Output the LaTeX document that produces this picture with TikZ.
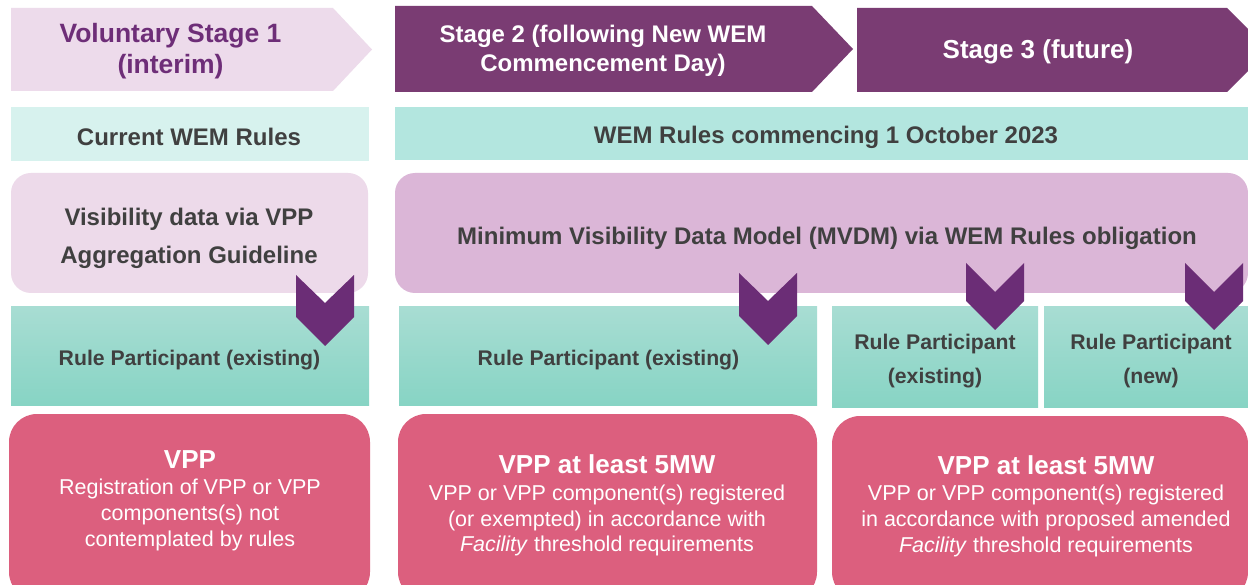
\documentclass[tikz,border=0pt]{standalone}
\usepackage{fontspec}
\setmainfont{Liberation Sans}
\definecolor{stageLight}{HTML}{EDDBEB}
\definecolor{stageDark}{HTML}{7A3C73}
\definecolor{stageText}{HTML}{6E2E78}
\definecolor{tealLight}{HTML}{D7F2EE}
\definecolor{tealMid}{HTML}{B3E6DF}
\definecolor{tealTop}{HTML}{A8DDD3}
\definecolor{tealBot}{HTML}{87D4C4}
\definecolor{lilacLight}{HTML}{EDDAEA}
\definecolor{lilac}{HTML}{DBB6D7}
\definecolor{chev}{HTML}{6B2D76}
\definecolor{pinkBox}{HTML}{DC5F7E}
\definecolor{txtDark}{HTML}{404040}
\begin{document}
\begin{tikzpicture}[x=1pt,y=-1pt,
  lbl/.style={anchor=base, inner sep=0pt, text=txtDark, font=\fontsize{24}{28}\selectfont\bfseries},
  rplbl/.style={lbl, font=\fontsize{21.2}{25}\selectfont\bfseries},
  stagewhite/.style={anchor=base, inner sep=0pt, text=white, font=\fontsize{24}{28}\selectfont\bfseries},
  stagelight/.style={anchor=base, inner sep=0pt, text=stageText, font=\fontsize{26.5}{30}\selectfont\bfseries},
  pinktitle/.style={anchor=base, inner sep=0pt, text=white, font=\fontsize{26}{30}\selectfont\bfseries},
  pinkbody/.style={anchor=base, inner sep=0pt, text=white, font=\fontsize{21.5}{26}\selectfont},
  rpbox/.style={top color=tealTop, bottom color=tealBot},
  pinkshape/.style={fill=pinkBox, rounded corners=28pt},
  chevshape/.style={fill=chev}
]
\useasboundingbox (0,0) rectangle (1248,585);
\clip (0,0) rectangle (1248,585);
\fill[white] (0,0) rectangle (1248,585);

% ---- stage arrows ----
\fill[stageLight] (11,8) -- (333,8) -- (372,49.5) -- (333,91) -- (11,91) -- cycle;
\fill[stageDark] (395,6) -- (812,6) -- (853,49) -- (812,92) -- (395,92) -- cycle;
\fill[stageDark] (857,8) -- (1227,8) -- (1269,50) -- (1227,92) -- (857,92) -- cycle;

\node[stagelight] (s1a) at (170.5,43) {Voluntary Stage 1};
\node[stagelight] (s1b) at (170.5,74) {(interim)};
\node[stagewhite] (s2a) at (603,43) {Stage 2 (following New WEM};
\node[stagewhite] (s2b) at (603,72) {Commencement Day)};
\node[stagewhite, font=\fontsize{26}{30}\selectfont\bfseries] (s3) at (1038,59) {Stage 3 (future)};

% ---- rules row ----
\fill[tealLight] (11,107) rectangle (369,161);
\fill[tealMid] (395,107) rectangle (1248,160);
\node[lbl] (cur) at (189,146) {Current WEM Rules};
\node[lbl] (new) at (826,144) {WEM Rules commencing 1 October 2023};

% ---- visibility row ----
\fill[lilacLight, rounded corners=20pt] (11,173) rectangle (368,293);
\fill[lilac, rounded corners=20pt] (395,173) rectangle (1248,293);
\node[lbl] (vis1) at (189,226) {Visibility data via VPP};
\node[lbl] (vis2) at (189,264) {Aggregation Guideline};
\node[lbl] (mvdm) at (827,245) {Minimum Visibility Data Model (MVDM) via WEM Rules obligation};

% ---- rule participant row ----
\shade[rpbox] (11,307) rectangle (369,405);
\shade[rpbox] (399,307) rectangle (817,405);
\shade[rpbox] (832,307) rectangle (1038,407);
\shade[rpbox] (1044,307) rectangle (1248,407);
\node[rplbl] (rp1) at (189.5,366) {Rule Participant (existing)};
\node[rplbl] (rp2) at (608.5,366) {Rule Participant (existing)};
\node[rplbl] (rp3a) at (935,350) {Rule Participant};
\node[rplbl] (rp3b) at (935,383) {(existing)};
\node[rplbl] (rp4a) at (1151,350) {Rule Participant};
\node[rplbl] (rp4b) at (1151,383) {(new)};

% ---- chevrons ----
\fill[chevshape] (296,275) -- (325,303) -- (354,275) -- (354,317) -- (325,346) -- (296,317) -- cycle;
\fill[chevshape] (739,273) -- (768,301) -- (797,273) -- (797,316) -- (768,345) -- (739,316) -- cycle;
\fill[chevshape] (966,263) -- (995,292) -- (1024,263) -- (1024,301) -- (995,330) -- (966,301) -- cycle;
\fill[chevshape] (1185,263) -- (1214,292) -- (1243,263) -- (1243,301) -- (1214,330) -- (1185,301) -- cycle;

% ---- VPP boxes ----
\fill[pinkshape] (9,414) rectangle (370,600);
\fill[pinkshape] (398,414) rectangle (817,600);
\fill[pinkshape] (832,416) rectangle (1248,600);

\node[pinktitle] (v1t) at (190,468) {VPP};
\node[pinkbody] (v1a) at (190,494) {Registration of VPP or VPP};
\node[pinkbody] (v1b) at (190,520) {components(s) not};
\node[pinkbody] (v1c) at (190,546) {contemplated by rules};

\node[pinktitle] (v2t) at (607,473) {VPP at least 5MW};
\node[pinkbody] (v2a) at (607,500) {VPP or VPP component(s) registered};
\node[pinkbody] (v2b) at (607,526) {(or exempted) in accordance with};
\node[pinkbody] (v2c) at (607,551) {\textit{Facility} threshold requirements};

\node[pinktitle] (v3t) at (1046,474) {VPP at least 5MW};
\node[pinkbody] (v3a) at (1046,500) {VPP or VPP component(s) registered};
\node[pinkbody] (v3b) at (1046,526) {in accordance with proposed amended};
\node[pinkbody] (v3c) at (1046,552) {\textit{Facility} threshold requirements};
\end{tikzpicture}
\end{document}
